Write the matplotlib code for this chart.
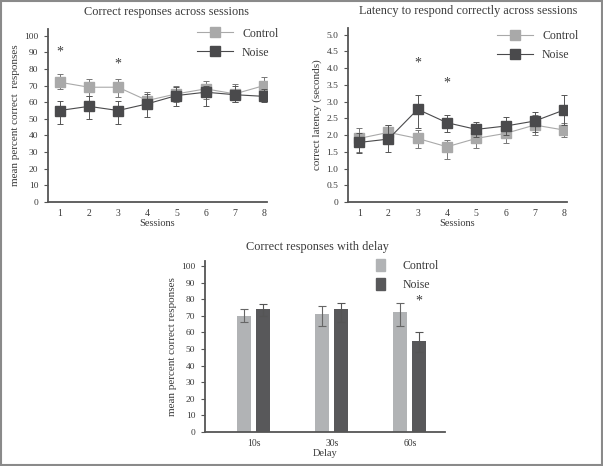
import matplotlib
matplotlib.use("Agg")
import matplotlib.pyplot as plt
from matplotlib.lines import Line2D
from matplotlib.patches import Patch, Rectangle
import numpy as np

plt.rcParams['font.family'] = ['Liberation Serif', 'DejaVu Serif']

sessions = [1, 2, 3, 4, 5, 6, 7, 8]

# Plot 1: correct responses (%)
ctrl_pct = [72, 69, 69, 61, 65, 68, 65, 70]
ctrl_pct_lo = [68, 64, 63, 56, 60, 62, 60, 64]
ctrl_pct_hi = [77, 74, 74, 66, 70, 73, 71, 75]
noise_pct = [55, 57.5, 55, 59, 64, 66, 64.5, 63.5]
noise_pct_lo = [47, 50, 47, 51, 58, 58, 60, 60]
noise_pct_hi = [61, 64, 61, 65, 69, 70, 70, 68]

# Plot 2: latency (s)
ctrl_lat = [1.9, 2.08, 1.9, 1.65, 1.9, 2.05, 2.3, 2.15]
ctrl_lat_lo = [1.5, 1.85, 1.6, 1.3, 1.6, 1.75, 2.0, 1.95]
ctrl_lat_hi = [2.2, 2.3, 2.15, 1.85, 2.2, 2.3, 2.6, 2.35]
noise_lat = [1.78, 1.88, 2.77, 2.37, 2.17, 2.27, 2.42, 2.75]
noise_lat_lo = [1.45, 1.5, 2.2, 2.1, 1.95, 2.0, 2.1, 2.3]
noise_lat_hi = [2.05, 2.3, 3.2, 2.6, 2.4, 2.55, 2.7, 3.2]

# Plot 3: delay
delays = ['10s', '30s', '60s']
ctrl_delay = [70, 71, 72]
ctrl_delay_lo = [66, 64, 64]
ctrl_delay_hi = [74, 76, 78]
noise_delay = [74, 74, 55]
noise_delay_lo = [70, 66, 48]
noise_delay_hi = [77, 78, 60]

C_LINE = '#a9a9a9'
N_LINE = '#4a4a4c'
C_BAR = '#b1b3b5'
N_BAR = '#58585a'
SPINE = '#555555'
TXT = '#3a3a3a'

fig = plt.figure(figsize=(6.03, 4.66), dpi=100)
fig.patches.append(Rectangle((0.001, 0.002), 0.997, 0.996, transform=fig.transFigure,
                             fill=False, edgecolor='#8a8a8a', linewidth=1.5))


def style(ax):
    for s in ['top', 'right']:
        ax.spines[s].set_visible(False)
    for s in ['left', 'bottom']:
        ax.spines[s].set_color(SPINE)
        ax.spines[s].set_linewidth(1.3)
    ax.tick_params(axis='y', length=3, width=0.8, color=SPINE, labelsize=6.8, labelcolor=TXT, pad=4)
    ax.tick_params(axis='x', length=0, labelsize=7, labelcolor=TXT, pad=5)


def line_panel(ax, c, clo, chi, n, nlo, nhi):
    x = np.array(sessions)
    c = np.array(c); n = np.array(n)
    ax.errorbar(x, c, yerr=[c - np.array(clo), np.array(chi) - c], color=C_LINE,
                marker='s', markersize=6.5, linewidth=0.8, elinewidth=0.7, capsize=2,
                capthick=0.7, ecolor='#777777', label='Control', zorder=2)
    ax.errorbar(x, n, yerr=[n - np.array(nlo), np.array(nhi) - n], color=N_LINE,
                marker='s', markersize=6.5, linewidth=0.8, elinewidth=0.7, capsize=2,
                capthick=0.7, ecolor='#555555', label='Noise', zorder=3)


# Axes 1
ax1 = fig.add_axes([48/603, 1-202/466, 219/603, 173/466])
line_panel(ax1, ctrl_pct, ctrl_pct_lo, ctrl_pct_hi, noise_pct, noise_pct_lo, noise_pct_hi)
style(ax1)
ax1.set_xlim(0.6, 8.1)
ax1.set_ylim(0, 104)
ax1.set_yticks(range(0, 101, 10))
ax1.set_xticks(sessions)
ax1.set_xlabel('Sessions', fontsize=7.5, color=TXT, labelpad=1)
ax1.set_ylabel('mean percent correct  responses', fontsize=8, color=TXT, labelpad=3)
ax1.set_title('Correct responses across sessions', fontsize=8.8, color=TXT, x=0.54, pad=10)
ax1.text(1, 88, '*', ha='center', fontsize=10, color=TXT)
ax1.text(3, 81, '*', ha='center', fontsize=10, color=TXT)
h = [Line2D([], [], color=C_LINE, marker='s', markersize=6.5, linewidth=0.8),
     Line2D([], [], color=N_LINE, marker='s', markersize=6.5, linewidth=0.8)]
ax1.legend(h, ['Control', 'Noise'], loc='upper right', bbox_to_anchor=(1.10, 1.07),
           frameon=False, fontsize=8.5, labelcolor=TXT, handlelength=3, labelspacing=0.6)

# Axes 2
ax2 = fig.add_axes([348/603, 1-202/466, 219/603, 174/466])
line_panel(ax2, ctrl_lat, ctrl_lat_lo, ctrl_lat_hi, noise_lat, noise_lat_lo, noise_lat_hi)
style(ax2)
ax2.set_xlim(0.62, 8.1)
ax2.set_ylim(0, 5.2)
ax2.set_yticks(np.arange(0, 5.01, 0.5))
ax2.set_yticklabels(['0'] + [f'{v:.1f}' for v in np.arange(0.5, 5.01, 0.5)])
ax2.set_xticks(sessions)
ax2.set_xlabel('Sessions', fontsize=7.5, color=TXT, labelpad=1)
ax2.set_ylabel('correct latency (seconds)', fontsize=8, color=TXT, labelpad=3)
ax2.set_title('Latency to respond correctly across sessions', fontsize=8.8, color=TXT, x=0.55, pad=10)
ax2.text(3, 4.05, '*', ha='center', fontsize=10, color=TXT)
ax2.text(4, 3.45, '*', ha='center', fontsize=10, color=TXT)
ax2.legend(h, ['Control', 'Noise'], loc='upper right', bbox_to_anchor=(1.10, 1.05),
           frameon=False, fontsize=8.5, labelcolor=TXT, handlelength=3, labelspacing=0.6)

# Axes 3
ax3 = fig.add_axes([205/603, 1-432/466, 240/603, 171/466])
xi = np.arange(len(delays))
w = 0.18
cd = np.array(ctrl_delay); nd = np.array(noise_delay)
ax3.bar(xi - 0.125, cd, w, color=C_BAR, yerr=[cd - np.array(ctrl_delay_lo), np.array(ctrl_delay_hi) - cd],
        ecolor='#666666', error_kw=dict(elinewidth=0.8, capsize=3, capthick=0.8), label='Control')
ax3.bar(xi + 0.12, nd, w, color=N_BAR, yerr=[nd - np.array(noise_delay_lo), np.array(noise_delay_hi) - nd],
        ecolor='#555555', error_kw=dict(elinewidth=0.8, capsize=3, capthick=0.8), label='Noise')
style(ax3)
ax3.set_xlim(-0.63, 2.45)
ax3.set_ylim(0, 103)
ax3.set_yticks(range(0, 101, 10))
ax3.set_xticks(xi)
ax3.set_xticklabels(delays)
ax3.set_xlabel('Delay', fontsize=7.5, color=TXT, labelpad=1)
ax3.set_ylabel('mean percent correct responses', fontsize=8, color=TXT, labelpad=3)
ax3.set_title('Correct responses with delay', fontsize=8.8, color=TXT, x=0.47, pad=8)
ax3.text(2 + 0.12, 77, '*', ha='center', fontsize=10, color=TXT)
hb = [Patch(color=C_BAR), Patch(color=N_BAR)]
ax3.legend(hb, ['Control', 'Noise'], loc='upper right', bbox_to_anchor=(1.02, 1.075),
           frameon=False, fontsize=8.5, labelcolor=TXT, handlelength=0.8, handleheight=1.2,
           handletextpad=1.5, labelspacing=0.5)

fig.savefig('out.png', dpi=100)
